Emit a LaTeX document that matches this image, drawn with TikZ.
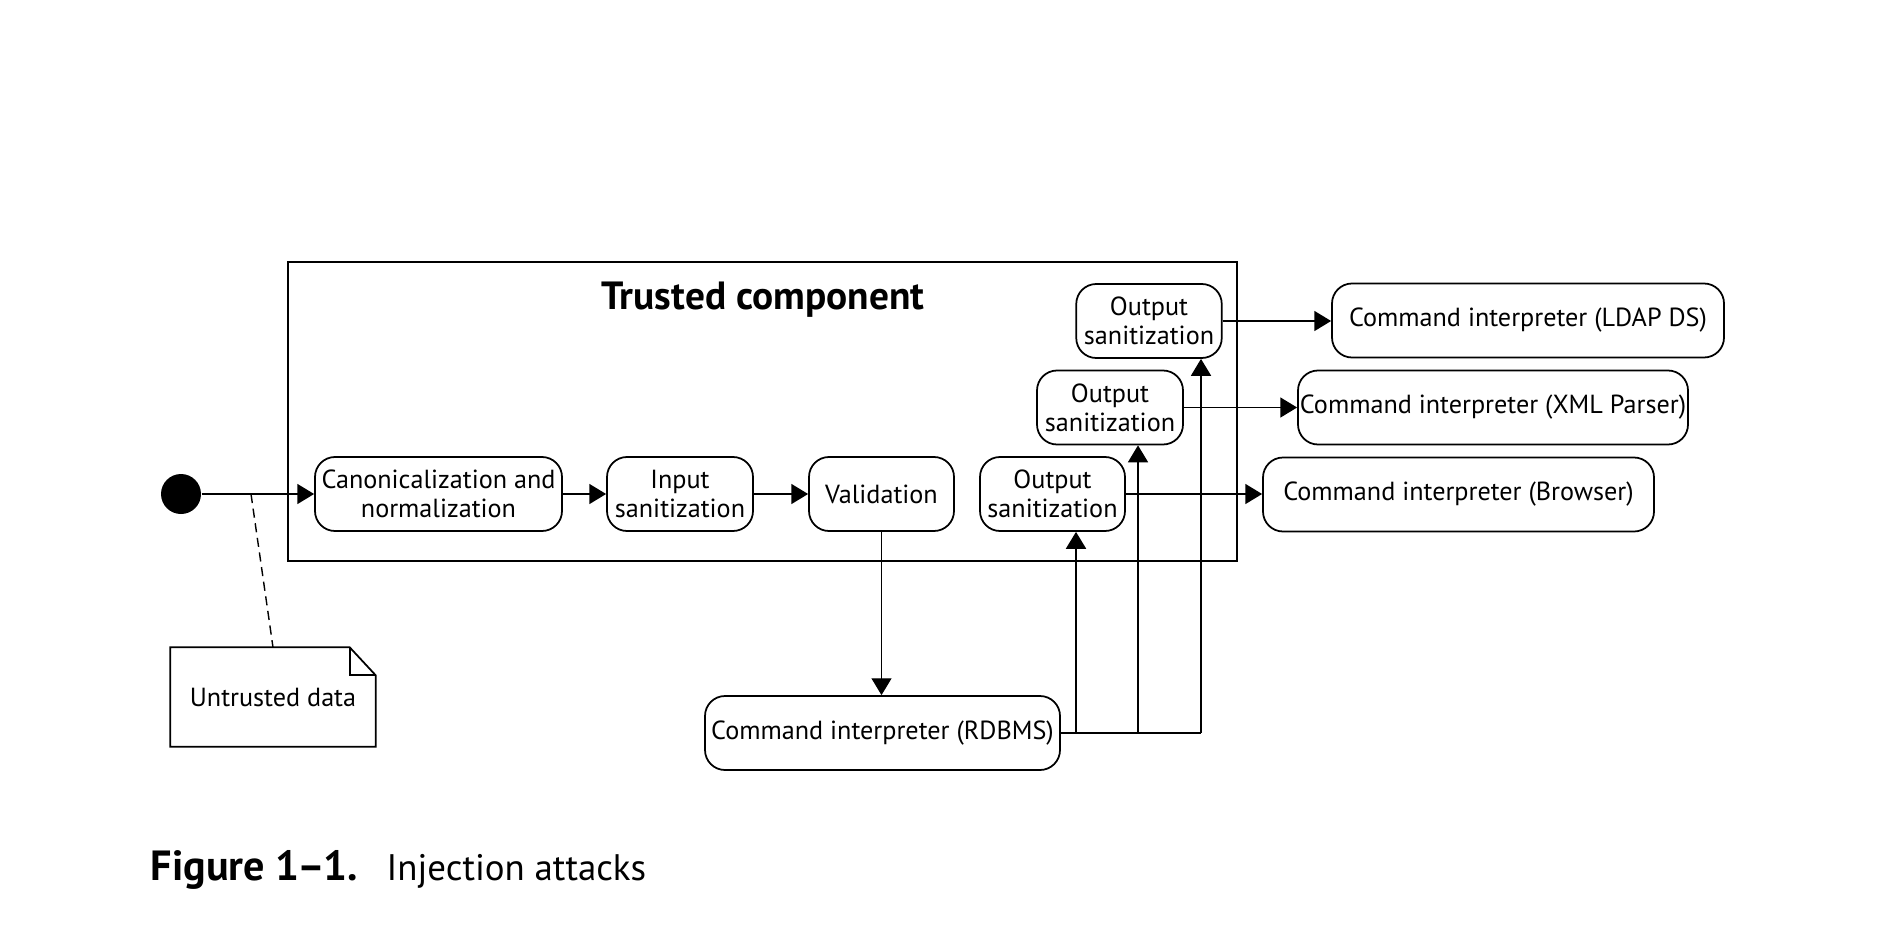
\documentclass[tikz,border=0pt]{standalone}
\usepackage{fontspec}
\setmainfont{PT Sans}
\usetikzlibrary{arrows.meta,calc}

\begin{document}
\begin{tikzpicture}[
    box/.style={draw, line width=0.5pt, rounded corners=0.2cm, minimum height=0.74cm,
      inner sep=0pt, align=center, font=\fontsize{7.45}{8.3}\selectfont},
    arr/.style={line width=0.45pt, -{Triangle[length=4.8pt,width=5.7pt]}},
    wire/.style={line width=0.4pt}
  ]
  \useasboundingbox (0,0) rectangle (18.82,-9.41);
  % trusted component
  \draw[line width=0.6pt] (2.88,-2.62) rectangle (12.37,-5.61);
  \node[anchor=base, font=\fontsize{11.2}{13}\selectfont\bfseries] (title) at (7.63,-3.09) {Trusted component};
  % start point
  \node[circle, fill, inner sep=0pt, minimum size=0.40cm] (start) at (1.81,-4.94) {};
  % main row
  \node[box, minimum width=2.47cm] (canon) at (4.385,-4.94) {Canonicalization and\\normalization};
  \node[box, minimum width=1.46cm] (insan) at (6.80,-4.94) {Input\\sanitization};
  \node[box, minimum width=1.45cm] (valid) at (8.815,-4.94) {Validation};
  \node[box, minimum width=1.45cm] (outA) at (10.525,-4.94) {Output\\sanitization};
  \node[box, minimum width=1.46cm] (outB) at (11.10,-4.075) {Output\\sanitization};
  \node[box, minimum width=1.455cm] (outC) at (11.49,-3.21) {Output\\sanitization};
  % interpreters
  \node[box, minimum width=3.91cm] (browser) at (14.585,-4.945) {Command interpreter (Browser)};
  \node[box, minimum width=3.90cm] (xml) at (14.93,-4.075) {Command interpreter (XML Parser)};
  \node[box, minimum width=3.92cm] (ldap) at (15.28,-3.205) {Command interpreter (LDAP DS)};
  \node[box, minimum width=3.55cm] (rdbms) at (8.825,-7.33) {Command interpreter (RDBMS)};
  % note
  \node[inner sep=0pt, minimum width=2.04cm, minimum height=0.98cm, font=\fontsize{7.45}{8.3}\selectfont] (note) at (2.73,-6.97) {Untrusted data};
  \draw[line width=0.5pt] (note.north west) -- ($(note.north east)+(-0.26,0)$) -- ($(note.north east)+(0,-0.28)$)
    -- (note.south east) -- (note.south west) -- cycle;
  \draw[line width=0.5pt] ($(note.north east)+(-0.26,0)$) |- ($(note.north east)+(0,-0.28)$);
  % flow
  \coordinate (tap) at (2.51,-4.94);
  \draw[arr] (start) -- (canon);
  \draw[wire, dash pattern=on 2.6pt off 1.6pt] (tap) -- (note.north);
  \draw[arr] (canon) -- (insan);
  \draw[arr] (insan) -- (valid);
  \draw[arr, line width=0.35pt] (valid.south) -- (valid.south |- rdbms.north);
  \draw[arr] (outA.east) -- (outA.east -| browser.west);
  \draw[arr] (outB.east) -- (outB.east -| xml.west);
  \draw[arr] (outC.east) -- (outC.east -| ldap.west);
  % bus back from rdbms
  \coordinate (busA) at (10.76,-7.33);
  \coordinate (busB) at (11.38,-7.33);
  \coordinate (busC) at (12.01,-7.33);
  \draw[wire] (rdbms.east) -- (busC);
  \draw[arr] (busA) -- (busA |- outA.south);
  \draw[arr, line width=0.35pt] (busB) -- (busB |- outB.south);
  \draw[arr, line width=0.35pt] (busC) -- (busC |- outC.south);
  % caption
  \node[anchor=base west, inner sep=0pt, font=\fontsize{12}{14}\selectfont\bfseries] (figlab) at (1.50,-8.80) {Figure 1\kern-0.05em--\kern-0.05em1.};
  \node[anchor=base west, inner sep=0pt, font=\fontsize{10.5}{13}\selectfont] (figtxt) at (3.86,-8.80) {Injection attacks};
\end{tikzpicture}
\end{document}
